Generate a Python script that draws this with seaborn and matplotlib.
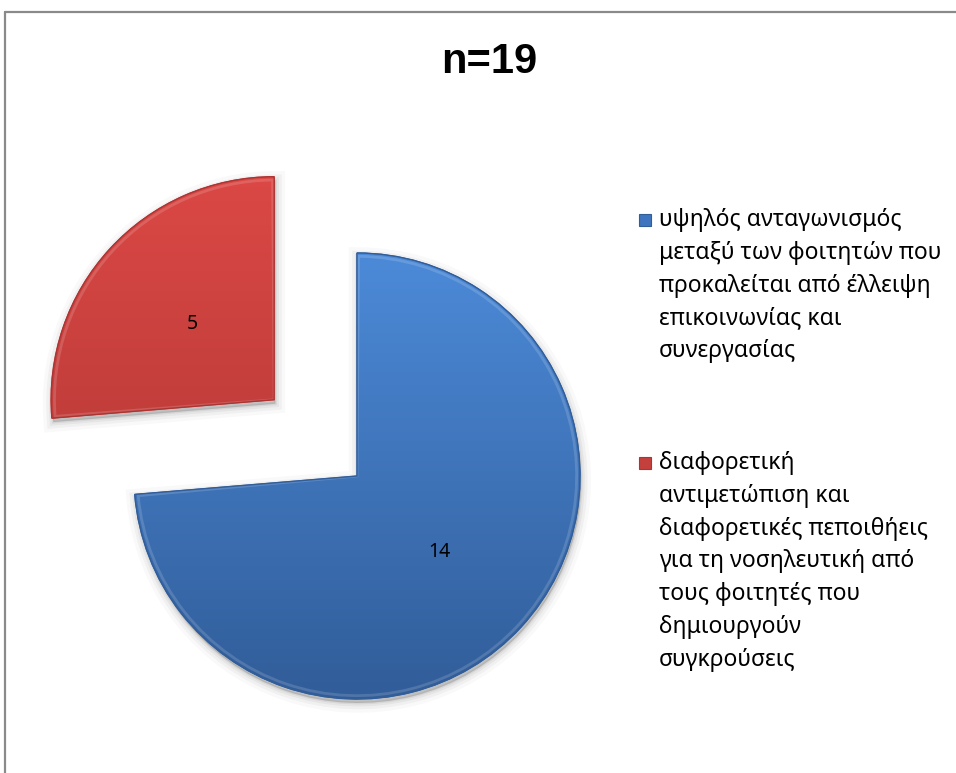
import numpy as np
import matplotlib
matplotlib.use("Agg")
import matplotlib.pyplot as plt
from matplotlib.lines import Line2D
from matplotlib.patches import Rectangle, Wedge
from matplotlib.colors import to_rgb
import seaborn as sns

# ---- data -------------------------------------------------------------
title = "n=19"
values = [14, 5]
legend_lines = [
    ["υψηλός ανταγωνισμός",
     "μεταξύ των φοιτητών που",
     "προκαλείται από έλλειψη",
     "επικοινωνίας και",
     "συνεργασίας"],
    ["διαφορετική",
     "αντιμετώπιση και",
     "διαφορετικές πεποιθήεις",
     "για τη νοσηλευτική από",
     "τους φοιτητές που",
     "δημιουργούν",
     "συγκρούσεις"],
]
explode = [0.0, 0.505]
base_colors = ["#3F74BE", "#C4403D"]
top_colors = ["#4C8AD8", "#DB4845"]
bottom_colors = ["#315D99", "#AC3533"]

# ---- style ------------------------------------------------------------
sns.set_theme(style="white")
plt.rcParams["font.family"] = ["Noto Sans", "DejaVu Sans"]

W, H = 956, 773
fig = plt.figure(figsize=(W / 100, H / 100), dpi=100)
ax = fig.add_axes([0, 0, 1, 1])

# pie geometry in pixels: centre and radius
cx, cy, R = 357, 476, 223

wedges, texts, autotexts = ax.pie(
    values, explode=explode, startangle=90, counterclock=False,
    colors=base_colors, autopct="%d", pctdistance=0.5,
    wedgeprops=dict(linewidth=0.8),
    textprops=dict(fontsize=14, color="black"),
)
for t, v in zip(autotexts, values):
    t.set_text(str(v))
    t.set_zorder(5)

# soft drop shadow under each wedge
for w in wedges:
    (x0, y0) = w.center
    for lw, a in [(14, 0.025), (9, 0.035), (5, 0.045), (2, 0.06)]:
        s = Wedge((x0 + 0.006, y0 - 0.018), w.r, w.theta1, w.theta2,
                  facecolor=(0, 0, 0, a), edgecolor=(0, 0, 0, a),
                  linewidth=lw, zorder=0.5)
        ax.add_patch(s)

# vertical gradient fill clipped to each wedge
for w, ct, cb in zip(wedges, top_colors, bottom_colors):
    (x0, y0) = w.center
    r = w.r
    n = 256
    t = np.linspace(0, 1, n)[:, None]
    c1 = np.array(to_rgb(ct))
    c2 = np.array(to_rgb(cb))
    grad = (1 - t)[:, :, None] * c1 + t[:, :, None] * c2
    grad = np.repeat(grad, 2, axis=1)
    im = ax.imshow(grad, extent=[x0 - r, x0 + r, y0 - r, y0 + r],
                   origin="upper", interpolation="bilinear", zorder=2)
    im.set_clip_path(w)
    # thin bevel outline
    edge = Wedge((x0, y0), r * 0.985, w.theta1 + 0.4, w.theta2 - 0.4,
                 facecolor="none", edgecolor=(1, 1, 1, 0.15),
                 linewidth=2.0, zorder=3)
    ax.add_patch(edge)
    w.set_edgecolor(cb)
    w.set_zorder(1)
    rim = Wedge((x0, y0), r, w.theta1, w.theta2, facecolor="none",
                edgecolor=cb, linewidth=1.0, zorder=3.5)
    ax.add_patch(rim)

ax.set_xlim(-cx / R, (W - cx) / R)
ax.set_ylim(-(H - cy) / R, cy / R)
ax.set_aspect("auto")
ax.axis("off")

# title
fig.text(489 / W, 1 - 62 / H, title, ha="center", va="center",
         fontsize=30, fontweight="bold", color="black",
         family=["Liberation Sans Narrow", "Liberation Sans", "DejaVu Sans"])

# legend
starts = [220, 463]
pitch = 32.8
for lines, y0, col, ct, cb in zip(legend_lines, starts, base_colors,
                                  top_colors, bottom_colors):
    fig.add_artist(Rectangle((639 / W, 1 - (y0 + 6) / H), 12 / W, 12 / H,
                             transform=fig.transFigure, facecolor=col,
                             edgecolor=cb, linewidth=0.8))
    for i, line in enumerate(lines):
        fig.text(659 / W, 1 - (y0 + i * pitch) / H, line, ha="left",
                 va="center", fontsize=16.5, color="black")

# chart-area border (top and left)
gray = "#8a8a8a"
fig.add_artist(Line2D([4.5 / W, 4.5 / W], [0, 1 - 11.5 / H],
                      transform=fig.transFigure, color=gray, lw=1.6))
fig.add_artist(Line2D([4.5 / W, 1], [1 - 11.5 / H, 1 - 11.5 / H],
                      transform=fig.transFigure, color=gray, lw=1.6))

fig.savefig("out.png", dpi=100, facecolor="white")
